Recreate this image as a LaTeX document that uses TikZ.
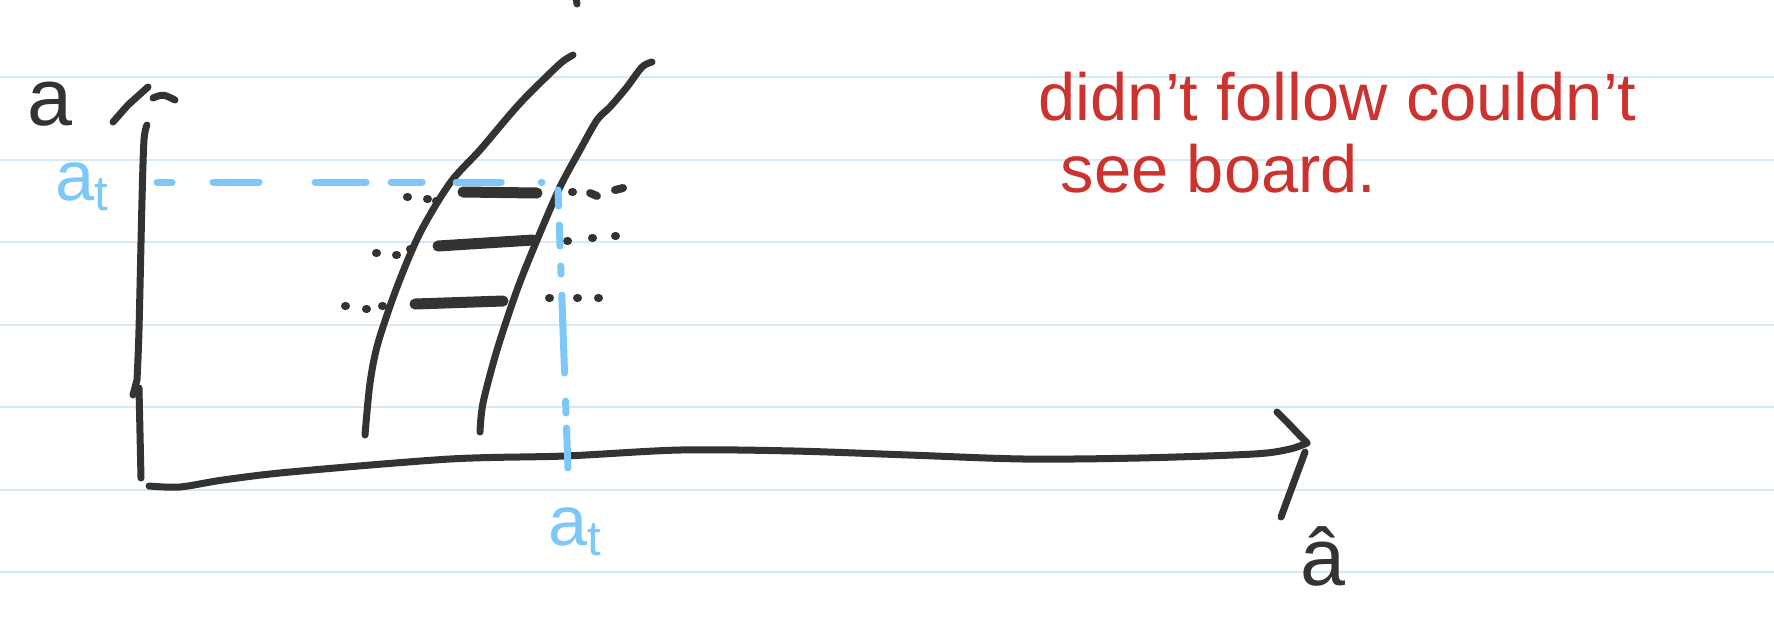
\documentclass[tikz,border=0pt]{standalone}
\usepackage{fontspec}
\setmainfont{Liberation Sans}
\usepackage{tikz}
\usetikzlibrary{positioning}
\definecolor{tinta}{RGB}{51,51,51}
\definecolor{celeste}{RGB}{125,200,248}
\definecolor{rojo}{RGB}{204,51,46}
\definecolor{lineas}{RGB}{214,233,248}

\begin{document}
\begin{tikzpicture}[x=0.01cm, y=-0.01cm,
  renglon/.style={draw=lineas, line width=0.02cm},
  trazo/.style={draw=tinta, line width=0.07cm, line cap=round, line join=round},
  barra/.style={draw=tinta, line width=0.11cm, line cap=round},
  punto/.style={draw=tinta, line width=0.08cm, line cap=round},
  guia/.style={draw=celeste, line width=0.07cm, line cap=round},
  rotulo/.style={font=\fontsize{23}{26}\selectfont, text=tinta, inner sep=0pt, anchor=base west},
  rotuloazul/.style={rotulo, text=celeste, font=\fontsize{20}{24}\selectfont},
  nota/.style={font=\fontsize{19}{23}\selectfont, text=rojo, inner sep=0pt, anchor=base west}]
  \useasboundingbox (0,0) rectangle (1774,633);
  \fill[white] (0,0) rectangle (1774,633);
  % hoja rayada
  \foreach \y in {77,160,242,325,407,490,572}
    \draw[renglon] (0,\y) -- (1774,\y);
  \draw[trazo] (576,-2) -- (577,4);
  % ejes
  \coordinate (origen) at (141,478);
  \coordinate (ytope) at (147,125);
  \coordinate (xtope) at (1307,443);
  \draw[trazo] plot[smooth] coordinates {(147,125) (144,140) (142,200) (139,330) (137,380)} -- (133,395);
  \draw[trazo] (139,388) -- (origen);
  \draw[trazo] (113,122) -- (128,105) -- (148,87);
  \draw[trazo] (153,98) .. controls (163,94) .. (175,100);
  \draw[trazo] plot[smooth] coordinates {(149,486) (180,487) (223,480) (290,472) (450,459)
    (565,456) (680,450) (794,451) (909,455) (1024,459) (1139,458) (1254,454) (1290,449) (1307,443)};
  \draw[trazo] (1277,412) -- (1288,423) -- (xtope);
  \draw[trazo] (1305,452) -- (1281,517);
  % curvas
  \draw[trazo] plot[smooth] coordinates {(573,55) (562,62) (543,80) (523,100) (507,118) (480,150)
    (450,183) (420,233) (397,287) (378,343) (370,383) (365,435)};
  \draw[trazo] plot[smooth] coordinates {(652,62) (642,67) (627,87) (610,107) (597,120) (580,150)
    (560,187) (537,240) (517,290) (497,350) (483,403) (480,432)};
  \draw[barra] (463,192) -- (537,193);
  \draw[barra] (438,246) -- (533,240);
  \draw[barra] (415,304) -- (503,301);
  \foreach \px/\py in {407/197, 427/199, 436/201, 376/253, 396/255, 410/249, 345/306, 366/309,
    382/306, 572/192, 567/241, 592/238, 615/236, 549/298, 577/298, 598/298}
    \draw[punto] (\px,\py) -- ++(1,0);
  \draw[punto] (590,193) -- (597,196);
  \draw[punto] (615,190) -- (623,188);
  % rotulos
  \node[rotulo] (etiqy) at (27,125) {a};
  \node[rotulo] (etiqx) at (1300,585) {â};
  \node[rotuloazul] (atizq) at (55,200) {a\textsubscript{t}};
  \node[rotuloazul] (atabajo) at (548,545) {a\textsubscript{t}};
  % guias del punto fijo
  \coordinate (hizq) at (157,182);
  \coordinate (hder) at (542,182);
  \coordinate (vtope) at (558,190);
  \coordinate (vbase) at (568,469);
  \draw[guia, dash pattern=on 0.15cm off 0.41cm on 0.46cm off 0.56cm on 0.51cm off 0.25cm
    on 0.31cm off 0.34cm on 0.45cm off 0.40cm on 0.01cm off 1cm] (hizq) -- (hder);
  \draw[guia, dash pattern=on 0.16cm off 0.19cm on 0.21cm off 0.20cm on 0.08cm off 0.21cm
    on 0.78cm off 0.28cm on 0.12cm off 0.15cm on 0.40cm off 1cm] (vtope) -- (vbase);
  % nota
  \node[nota] (nota1) at (1038,120) {didn't follow couldn't};
  \node[nota, below right=0.72cm and 0.22cm of nota1.base west, anchor=base west] (nota2) {see board.};
\end{tikzpicture}
\end{document}
